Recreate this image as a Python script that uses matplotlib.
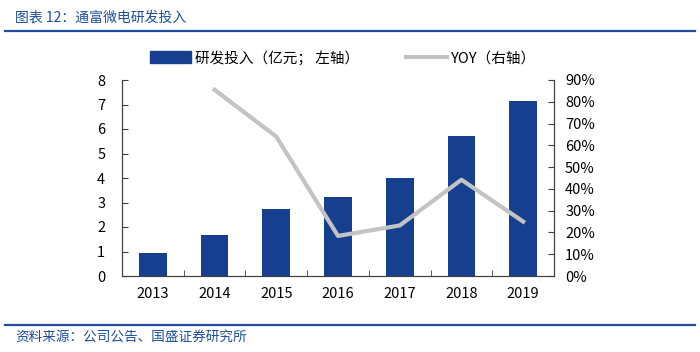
import numpy as np
import matplotlib.pyplot as plt
from matplotlib.lines import Line2D
from matplotlib.patches import Patch
from matplotlib.ticker import FuncFormatter

plt.rcParams['font.family'] = ['Noto Sans CJK SC', 'DejaVu Sans']

years = ['2013', '2014', '2015', '2016', '2017', '2018', '2019']
rd_spend = [0.94, 1.69, 2.73, 3.22, 3.99, 5.70, 7.13]   # 亿元
yoy = [np.nan, 85.5, 64.0, 18.4, 23.2, 44.2, 25.0]      # %

bar_color = '#173f8f'
line_color = '#c3c3c3'
title_color = '#1f4e9c'

fig = plt.figure(figsize=(7, 3.52), dpi=100)
ax = fig.add_axes([122 / 700, 1 - 276 / 352, 432 / 700, 196 / 352])
x = np.arange(len(years))

ax.bar(x, rd_spend, width=0.45, color=bar_color, zorder=2)
ax.set_xlim(-0.5, len(years) - 0.5)
ax.set_ylim(0, 8)
ax.set_yticks(range(0, 9))
ax.set_xticks(x)
ax.set_xticklabels(years)
ax.set_xticks(np.arange(-0.5, len(years)), minor=True)
ax.tick_params(axis='x', which='major', length=0, pad=8, labelsize=10.5)
ax.tick_params(axis='x', which='minor', direction='in', length=4, color='#404040')
ax.tick_params(axis='y', direction='in', length=4, labelsize=10.5, pad=12, color='#404040')
ax.spines['top'].set_visible(False)
for s in ['left', 'right', 'bottom']:
    ax.spines[s].set_color('#404040')
    ax.spines[s].set_linewidth(0.8)

ax2 = ax.twinx()
ax2.plot(x, yoy, color=line_color, linewidth=3, zorder=3)
ax2.set_ylim(0, 90)
ax2.set_yticks(range(0, 91, 10))
ax2.yaxis.set_major_formatter(FuncFormatter(lambda v, p: f'{int(v)}%'))
ax2.tick_params(axis='y', direction='in', length=4, labelsize=10.5, pad=8, color='#404040')
ax2.spines['top'].set_visible(False)
for s in ['left', 'right', 'bottom']:
    ax2.spines[s].set_color('#404040')
    ax2.spines[s].set_linewidth(0.8)

handles = [Patch(color=bar_color), Line2D([0], [0], color=line_color, linewidth=3)]
labels = ['研发投入（亿元； 左轴）', 'YOY（右轴）']
fig.legend(handles, labels, loc='center', bbox_to_anchor=(0.49, 1 - 58 / 352),
           ncol=2, frameon=False, fontsize=10.5, handlelength=2.8, handleheight=0.9,
           columnspacing=3.2, handletextpad=0.3)

fig.text(15 / 700, 1 - 18 / 352, '图表 12：通富微电研发投入', color=title_color,
         fontsize=10, va='center', ha='left')
fig.add_artist(Line2D([5 / 700, 695 / 700], [1 - 31 / 352] * 2, color=title_color, linewidth=1.6))
fig.add_artist(Line2D([5 / 700, 695 / 700], [1 - 325 / 352] * 2, color=title_color, linewidth=1.6))
fig.text(15 / 700, 1 - 337 / 352, '资料来源：公司公告、国盛证券研究所', color=title_color,
         fontsize=9.8, va='center', ha='left')

fig.savefig('out.png', dpi=100)
